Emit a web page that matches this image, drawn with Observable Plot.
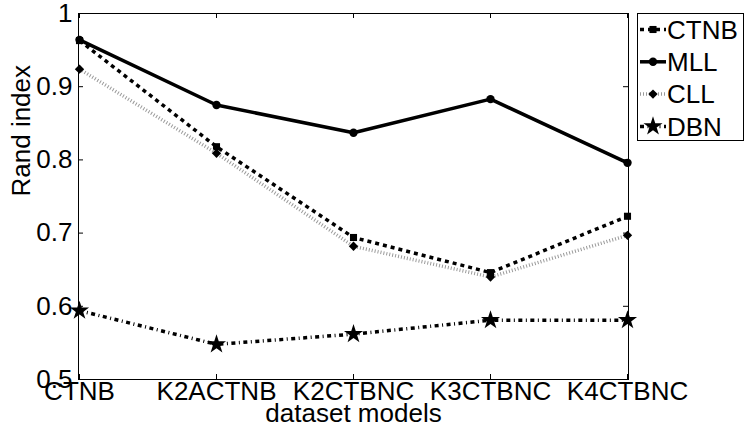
<!DOCTYPE html>
<html><head><meta charset="utf-8">
<script src="https://cdn.jsdelivr.net/npm/d3@7"></script>
<script src="https://cdn.jsdelivr.net/npm/@observablehq/plot@0.6"></script>
<style>body{margin:0;background:#fff;} svg{display:block;}</style>
</head><body><div id="chart"></div>
<script>
const categories = ["CTNB", "K2ACTNB", "K2CTBNC", "K3CTBNC", "K4CTBNC"];
const seriesNames = ["CTNB", "MLL", "CLL", "DBN"];
const ctnbValues = [0.963, 0.818, 0.694, 0.646, 0.723];
const mllValues  = [0.964, 0.875, 0.837, 0.883, 0.796];
const cllValues  = [0.924, 0.809, 0.682, 0.640, 0.697];
const dbnValues  = [0.594, 0.548, 0.562, 0.581, 0.581];
const yTicks = [0.5, 0.6, 0.7, 0.8, 0.9, 1];
const yLabel = "Rand index";
const xLabel = "dataset models";

const W = 747, H = 436, mL = 78, mR = 119, mT = 13, mB = 57;
const pw = W - mL - mR, ph = H - mT - mB;
const FONT = "'Liberation Sans', Arial, Helvetica, sans-serif";
const FS = 26;

const valuesBySeries = {CTNB: ctnbValues, MLL: mllValues, CLL: cllValues, DBN: dbnValues};
const styles = {
  CTNB: {stroke: "#000", strokeWidth: 3.5, dash: "4,4", symbol: "square", r: 4},
  MLL:  {stroke: "#000", strokeWidth: 3.5, dash: null, symbol: "circle", r: 4.2},
  CLL:  {stroke: "#9a9a9a", strokeWidth: 3.5, dash: "1,2", symbol: "diamond2", r: 4.2},
  DBN:  {stroke: "#000", strokeWidth: 3.5, dash: "4,3.5,1,3.5", symbol: "star", r: 6}
};
const rows = s => categories.map((c, i) => ({series: s, cat: c, value: valuesBySeries[s][i]}));

const seriesMarks = seriesNames.flatMap(s => {
  const st = styles[s];
  return [
    Plot.line(rows(s), {x: "cat", y: "value", stroke: st.stroke, strokeWidth: st.strokeWidth,
      strokeDasharray: st.dash ?? undefined, strokeLinecap: "butt", strokeLinejoin: "round"}),
    Plot.dot(rows(s), {x: "cat", y: "value", symbol: st.symbol, r: st.r, fill: "#000", stroke: "none"})
  ];
});

const chart = Plot.plot({
  width: W, height: H,
  marginLeft: mL, marginRight: mR, marginTop: mT, marginBottom: mB,
  style: {fontFamily: FONT, fontSize: FS + "px", background: "#fff", color: "#000", overflow: "visible"},
  x: {type: "point", domain: categories, padding: 0},
  y: {domain: [0.5, 1]},
  marks: [
    // inward ticks (left/right for y, top/bottom for x)
    Plot.tickY(yTicks, {y: d => d, stroke: "#000", strokeWidth: 1, insetRight: pw - 5}),
    Plot.tickY(yTicks, {y: d => d, stroke: "#000", strokeWidth: 1, insetLeft: pw - 5}),
    Plot.tickX(categories, {x: d => d, stroke: "#000", strokeWidth: 1, insetTop: ph - 5}),
    Plot.tickX(categories, {x: d => d, stroke: "#000", strokeWidth: 1, insetBottom: ph - 5}),
    ...seriesMarks,
    Plot.frame({stroke: "#000", strokeWidth: 1}),
    Plot.axisY({ticks: yTicks, tickSize: 0, tickPadding: 6, tickFormat: d => d3.format("~g")(d), label: null, fontSize: FS}),
    Plot.axisX({tickSize: 0, tickPadding: 2, label: null, fontSize: FS}),
    Plot.text([yLabel], {text: d => d, frameAnchor: "left", rotate: -90, dx: -57, fontSize: FS}),
    Plot.text([xLabel], {text: d => d, frameAnchor: "bottom", dy: 42, fontSize: FS})
  ]
});
document.getElementById("chart").appendChild(chart);

// legend (outside the axes, top-right)
const svg = d3.select(chart);
const lg = svg.append("g").attr("font-family", FONT).attr("font-size", FS).attr("text-anchor", "start");
lg.append("rect").attr("x", 637.5).attr("y", 13.5).attr("width", 106).attr("height", 127)
  .attr("fill", "#fff").attr("stroke", "#000").attr("stroke-width", 1);
const symMap = {square: d3.symbolSquare, circle: d3.symbolCircle, diamond2: d3.symbolDiamond2, star: d3.symbolStar};
seriesNames.forEach((s, i) => {
  const st = styles[s];
  const y = 29.5 + i * 32.3;
  lg.append("line").attr("x1", 640).attr("x2", 666).attr("y1", y).attr("y2", y)
    .attr("stroke", st.stroke).attr("stroke-width", st.strokeWidth)
    .attr("stroke-dasharray", st.dash ?? null);
  lg.append("path").attr("transform", `translate(653,${y})`)
    .attr("d", d3.symbol(symMap[st.symbol], Math.PI * st.r * st.r)()).attr("fill", "#000");
  lg.append("text").attr("x", 667).attr("y", y).attr("dy", "0.35em").attr("fill", "#000")
    .attr("text-anchor", "start").text(s);
});
</script>
</body></html>
